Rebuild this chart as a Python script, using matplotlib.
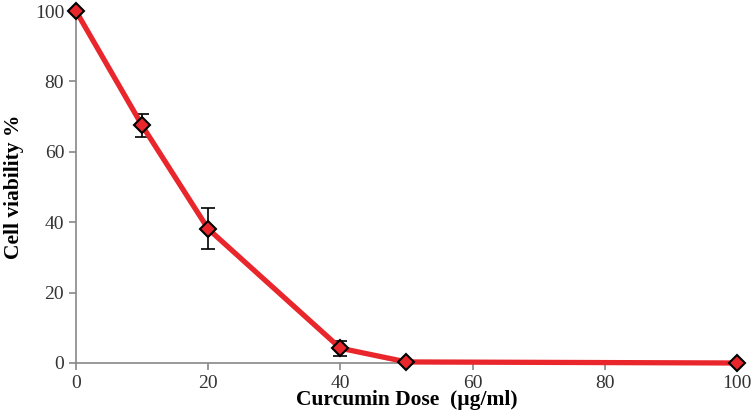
import matplotlib.pyplot as plt

dose = [0, 10, 20, 40, 50, 100]
viability = [100, 67.5, 38.1, 4.2, 0.3, 0.0]
error = [0, 3.2, 5.8, 2.1, 0, 0]

plt.rcParams["font.family"] = ["Liberation Serif", "DejaVu Serif"]

fig = plt.figure(figsize=(7.52, 4.17), dpi=100)
ax = fig.add_axes([0.101, 0.1295, 0.879, 0.8441])

# error bars first, then the line and markers on top
ax.errorbar(dose, viability, yerr=error, fmt="none", ecolor="black",
            elinewidth=1.2, capsize=5, capthick=1.2, zorder=2, clip_on=False)
ax.plot(dose, viability, color="#E8262B", linewidth=3.8, zorder=3,
        marker="D", markersize=8, markerfacecolor="#E8262B",
        markeredgecolor="black", markeredgewidth=1.5, clip_on=False)

ax.set_xlim(0, 100)
ax.set_ylim(0, 100)
ax.set_xticks(range(0, 101, 20))
ax.set_yticks(range(0, 101, 20))

for side in ["top", "right"]:
    ax.spines[side].set_visible(False)
for side in ["left", "bottom"]:
    ax.spines[side].set_color("#888888")
    ax.spines[side].set_linewidth(1.2)
ax.tick_params(colors="#888888", labelcolor="#333333", labelsize=14,
               length=5, width=1.2)

ax.set_xlabel("Curcumin Dose  (\u00b5g/ml)", fontsize=15.5, fontweight="bold",
              labelpad=-1)
ax.set_ylabel("Cell viability %", fontsize=15.5, fontweight="bold", labelpad=8)

plt.savefig("out.png")
